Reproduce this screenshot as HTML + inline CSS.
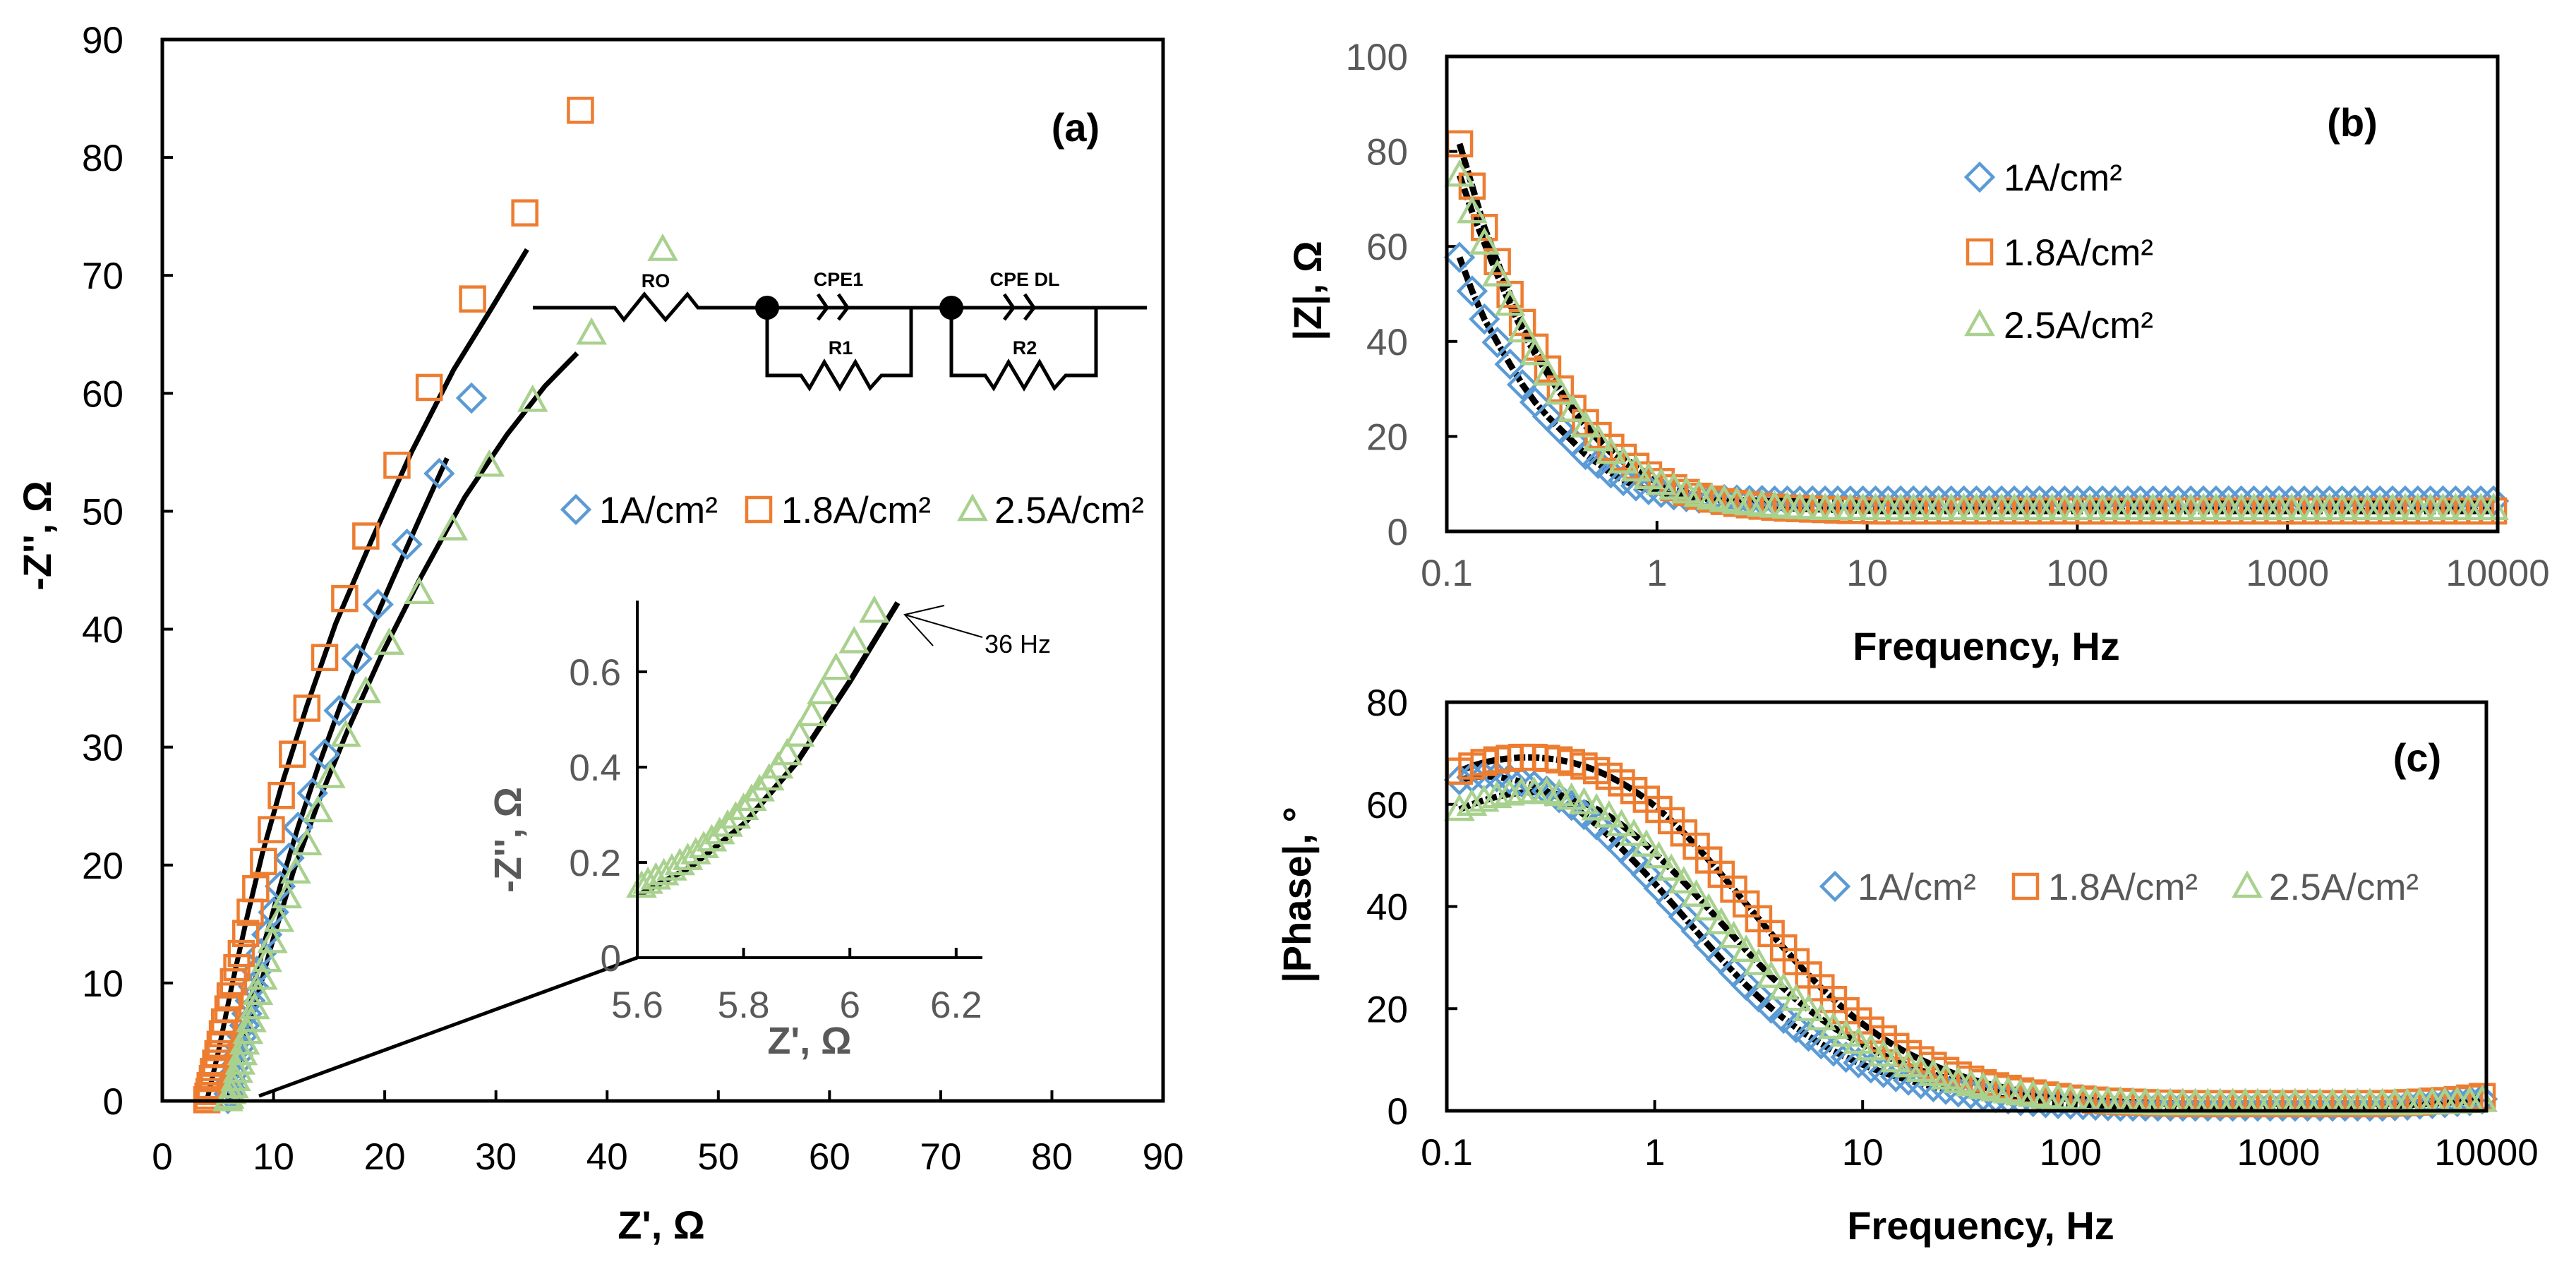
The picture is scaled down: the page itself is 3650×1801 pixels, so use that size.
<!DOCTYPE html>
<html><head><meta charset="utf-8"><style>
html,body{margin:0;padding:0;background:#fff}
svg{display:block}
text{font-family:"Liberation Sans",sans-serif}
</style></head><body>
<svg id="fig" width="3650" height="1801" viewBox="0 0 3650 1801" xmlns="http://www.w3.org/2000/svg">
<g id="pa"></g>
<g id="pb"></g>
<g id="pc"></g>
</svg>
<script>
// ---------- DATA ----------
const seriesNames = ["1A/cm²","1.8A/cm²","2.5A/cm²"];
const seriesColors = ["#5B9BD5","#ED7D31","#A9D18E"];
// Nyquist (a): [Z', -Z'']
const nyqBlue = [[27.8,59.6],[24.9,53.2],[22.0,47.2],[19.4,42.1],[17.5,37.5],[15.9,33.1],[14.6,29.4],[13.5,26.1],[12.2,23.2],[11.4,20.6],[10.6,18.2],[10.0,16.0],[9.4,14.1],[8.9,12.5],[8.5,11.0],[8.2,9.7],[7.9,8.5],[7.6,7.4],[7.4,6.4],[7.2,5.5],[7.0,4.6],[6.8,3.8],[6.6,3.0],[6.4,2.3],[6.2,1.7],[6.1,1.1],[6.0,0.6],[5.9,0.2]];
const nyqOrange = [[37.6,84.0],[32.6,75.3],[27.9,68.0],[24.0,60.5],[21.1,53.9],[18.3,47.9],[16.4,42.6],[14.6,37.6],[13.0,33.3],[11.7,29.4],[10.7,25.9],[9.8,23.0],[9.1,20.3],[8.4,18.0],[7.9,16.0],[7.5,14.2],[7.1,12.5],[6.7,11.3],[6.4,10.1],[6.1,8.9],[5.9,7.8],[5.6,6.7],[5.4,5.7],[5.2,4.8],[5.0,4.0],[4.8,3.2],[4.6,2.5],[4.5,1.9],[4.3,1.3],[4.2,0.8],[4.1,0.4],[4.0,0.1]];
const nyqGreen = [[45.0,72.2],[38.6,65.1],[33.3,59.4],[29.4,53.9],[26.1,48.5],[23.1,43.1],[20.4,38.8],[18.3,34.7],[16.5,31.0],[15.1,27.5],[14.0,24.6],[13.0,21.8],[12.0,19.4],[11.2,17.3],[10.5,15.3],[9.9,13.5],[9.4,11.9],[9.0,10.4],[8.6,9.1],[8.3,7.9],[8.0,6.8],[7.7,5.8],[7.4,4.9],[7.2,4.0],[7.0,3.2],[6.8,2.5],[6.6,1.8],[6.4,1.2],[6.2,0.7],[6.0,0.3],[5.9,0.1]];
const fitBlue = [[5.9,0],[6.8,4],[7.9,8.5],[9.2,13.5],[10.6,18.2],[12.2,23.2],[14.0,28.3],[16.0,33.5],[18.2,38.8],[20.6,44],[23.2,49.5],[25.6,54.5]];
const fitOrange = [[4.0,0],[5.0,4],[6.3,10],[7.6,15.5],[9.0,21],[10.8,27],[13.0,33.5],[15.6,40.5],[18.8,47.5],[22.4,55],[26.2,62],[29.6,67.2],[32.8,72.2]];
const fitGreen = [[5.9,0],[7.0,3.5],[8.3,8],[9.9,13.5],[11.8,19.5],[14.1,25.5],[16.7,31.5],[19.8,38],[23.3,44.5],[27.2,51.2],[31.0,56.5],[34.4,60.6],[37.3,63.4]];
// Inset
const insetGreen = [[5.608,0.150],[5.62,0.158],[5.635,0.167],[5.65,0.176],[5.665,0.186],[5.68,0.197],[5.695,0.208],[5.71,0.220],[5.725,0.233],[5.74,0.247],[5.755,0.262],[5.77,0.278],[5.785,0.295],[5.80,0.313],[5.815,0.332],[5.83,0.352],[5.848,0.375],[5.865,0.400],[5.882,0.428],[5.905,0.467],[5.928,0.51],[5.948,0.556],[5.974,0.607],[6.008,0.663],[6.046,0.727]];
const insetFit = [[5.6,0.13],[5.7,0.19],[5.8,0.28],[5.9,0.41],[6.0,0.58],[6.09,0.745]];
// Bode frequencies
const freq = [0.115,0.132,0.151,0.174,0.200,0.229,0.263,0.302,0.347,0.398,0.457,0.525,0.603,0.692,0.794,0.912,1.047,1.202,1.380,1.585,1.820,2.089,2.399,2.754,3.162,3.631,4.169,4.786,5.495,6.310,7.244,8.318,9.550,10.96,12.59,14.45,16.60,19.05,21.88,25.12,28.84,33.11,38.02,43.65,50.12,57.54,66.07,75.86,87.10,100,114.8,131.8,151.4,173.8,199.5,229.1,263.0,302.0,346.7,398.1,457.1,524.8,602.6,691.8,794.3,912.0,1047,1202,1380,1585,1820,2089,2399,2754,3162,3631,4169,4786,5495,6310,7244,8318,9550];
const magBlue = [57.7,50.6,44.7,39.8,35.2,30.9,27.2,24.2,21.5,18.9,16.2,14.3,12.3,10.7,9.6,8.8,8.2,7.7,7.3,7.0,6.8,6.7,6.6,6.5,6.5,6.4,6.4,6.4,6.4,6.4,6.4,6.4,6.4,6.4,6.4,6.4,6.4,6.4,6.4,6.4,6.4,6.4,6.4,6.4,6.4,6.4,6.4,6.4,6.4,6.4,6.4,6.4,6.4,6.4,6.4,6.4,6.4,6.4,6.4,6.4,6.4,6.4,6.4,6.4,6.4,6.4,6.4,6.4,6.4,6.4,6.4,6.4,6.4,6.4,6.4,6.4,6.4,6.4,6.4,6.4,6.4,6.4,6.4];
const magOrange = [81.6,72.7,64.0,56.8,49.9,44.0,38.8,34.2,30.0,25.9,22.9,20.2,17.7,15.6,13.7,11.9,10.5,9.2,8.2,7.4,6.8,6.3,5.9,5.6,5.3,5.1,4.9,4.8,4.7,4.6,4.5,4.4,4.4,4.3,4.3,4.3,4.3,4.3,4.3,4.3,4.3,4.3,4.3,4.3,4.3,4.3,4.3,4.3,4.3,4.3,4.3,4.3,4.3,4.3,4.3,4.3,4.3,4.3,4.3,4.3,4.3,4.3,4.3,4.3,4.3,4.3,4.3,4.3,4.3,4.3,4.3,4.3,4.3,4.3,4.3,4.3,4.3,4.3,4.3,4.3,4.3,4.3,4.3];
const magGreen = [75.0,67.3,60.7,54.0,47.8,42.2,37.4,33.1,29.1,25.5,22.2,19.3,16.6,14.6,12.9,11.3,10.1,9.1,8.3,7.6,7.0,6.5,6.1,5.8,5.5,5.3,5.1,5.0,4.9,4.8,4.8,4.8,4.8,4.8,4.8,4.8,4.8,4.8,4.8,4.8,4.8,4.8,4.8,4.8,4.8,4.8,4.8,4.8,4.8,4.8,4.8,4.8,4.8,4.8,4.8,4.8,4.8,4.8,4.8,4.8,4.8,4.8,4.8,4.8,4.8,4.8,4.8,4.8,4.8,4.8,4.8,4.8,4.8,4.8,4.8,4.8,4.8,4.8,4.8,4.8,4.8,4.8,4.8];
const phBlue = [64.8,65.3,65.5,65.4,65.0,64.4,63.6,62.6,61.3,59.8,58.0,56.0,53.8,51.4,48.9,46.3,43.6,40.8,38.0,35.2,32.4,29.7,27.1,24.6,22.3,20.1,18.1,16.3,14.6,13.1,11.7,10.5,9.4,8.4,7.5,6.7,6.0,5.3,4.7,4.2,3.7,3.3,2.9,2.6,2.3,2.0,1.8,1.6,1.4,1.3,1.2,1.1,1.0,0.9,0.9,0.9,0.9,0.9,0.9,0.9,0.9,0.9,0.9,0.9,0.9,0.9,0.9,0.9,0.9,0.9,0.9,0.9,0.9,0.9,0.9,1.0,1.1,1.3,1.4,1.6,1.8,2.0,2.3];
const phOrange = [66.5,67.5,68.2,68.7,69.0,69.2,69.2,69.0,68.7,68.2,67.5,66.6,65.5,64.2,62.7,61.0,59.0,56.8,54.4,51.8,49.1,46.3,43.4,40.5,37.6,34.7,31.9,29.2,26.6,24.1,21.8,19.6,17.6,15.8,14.1,12.6,11.2,10.0,8.9,7.9,7.0,6.2,5.5,4.9,4.4,3.9,3.5,3.1,2.8,2.5,2.3,2.1,1.9,1.8,1.7,1.6,1.5,1.5,1.4,1.4,1.4,1.4,1.4,1.4,1.4,1.4,1.4,1.4,1.4,1.4,1.4,1.4,1.4,1.4,1.4,1.5,1.6,1.7,1.9,2.0,2.2,2.5,2.8];
const phGreen = [59.0,60.0,60.8,61.5,62.0,62.3,62.4,62.3,61.9,61.2,60.3,59.1,57.7,56.0,54.1,52.0,49.7,47.3,44.8,42.2,39.5,36.8,34.1,31.4,28.8,26.3,24.0,21.8,19.8,18.0,16.3,14.8,13.4,12.1,10.9,9.8,8.8,7.9,7.1,6.4,5.7,5.1,4.6,4.1,3.7,3.3,3.0,2.7,2.5,2.3,2.1,1.9,1.8,1.7,1.6,1.5,1.4,1.4,1.4,1.4,1.4,1.4,1.4,1.4,1.4,1.4,1.4,1.4,1.4,1.4,1.4,1.4,1.4,1.4,1.4,1.4,1.4,1.5,1.5,1.6,1.7,1.8,2.0];
const ticksA = [0,10,20,30,40,50,60,70,80,90];
const ticksInsetX = [5.6,5.8,6.0,6.2];
const ticksInsetY = [0,0.2,0.4,0.6];
const ticksB = [0,20,40,60,80,100];
const ticksC = [0,20,40,60,80];
const ticksF = [0.1,1,10,100,1000,10000];

// ---------- HELPERS ----------
const NS = "http://www.w3.org/2000/svg";
function mk(parent, tag, attrs, txt){
  const e = document.createElementNS(NS, tag);
  for (const k in attrs) e.setAttribute(k, attrs[k]);
  if (txt !== undefined) e.textContent = txt;
  parent.appendChild(e);
  return e;
}
function marker(g, kind, x, y, color){
  let e;
  if (kind === 0) e = mk(g,"polygon",{points:`${x},${y-19} ${x+19},${y} ${x},${y+19} ${x-19},${y}`,fill:"none",stroke:color,"stroke-width":4.5});
  else if (kind === 1) e = mk(g,"rect",{x:x-17,y:y-17,width:34,height:34,fill:"none",stroke:color,"stroke-width":4.5});
  else e = mk(g,"polygon",{points:`${x},${y-18} ${x+18},${y+14} ${x-18},${y+14}`,fill:"none",stroke:color,"stroke-width":4.5});
  
  
  return e;
}
function poly(g, pts, attrs){
  const e = mk(g,"polyline",Object.assign({points:pts.map(p=>p[0].toFixed(1)+","+p[1].toFixed(1)).join(" "),fill:"none"},attrs));
  
  
  return e;
}
function label(g, x, y, s, attrs, name){
  const e = mk(g,"text",Object.assign({x:x,y:y,"font-size":53},attrs), s);
  
  
  return e;
}
function legend(g, items){
  items.forEach((it,i)=>{
    marker(g,i,it.mx,it.my,seriesColors[i]);
    label(g,it.tx,it.my+19,seriesNames[i],{fill:it.fill||"#000"},"legend-entry");
  });
}

// ---------- PANEL A ----------
const pa = document.getElementById("pa");
const xa = v => 230 + v*15.756;
const ya = v => 1560 - v*16.711;
ticksA.forEach(t=>{
  if (t>0 && t<90){
    mk(pa,"line",{x1:xa(t),y1:1560,x2:xa(t),y2:1545,stroke:"#000","stroke-width":4});
    mk(pa,"line",{x1:230,y1:ya(t),x2:245,y2:ya(t),stroke:"#000","stroke-width":4});
  }
  label(pa,xa(t),1657,String(t),{"text-anchor":"middle"},"x-tick-label");
  label(pa,175,ya(t)+19,String(t),{"text-anchor":"end"},"y-tick-label");
});
mk(pa,"line",{x1:367,y1:1553,x2:903,y2:1357,stroke:"#000","stroke-width":5});
[fitBlue,fitOrange,fitGreen].forEach(f=>poly(pa,f.map(p=>[xa(p[0]),ya(p[1])]),{stroke:"#000","stroke-width":7}));
[nyqBlue,nyqOrange,nyqGreen].forEach((s,i)=>s.forEach(p=>marker(pa,i,xa(p[0]),ya(p[1]),seriesColors[i])));
const fa = mk(pa,"rect",{x:230,y:56,width:1418,height:1504,fill:"none",stroke:"#000","stroke-width":5});

label(pa,937,1755,"Z', Ω",{"text-anchor":"middle","font-weight":"bold","font-size":56},"x-axis-title");
label(pa,0,0,"-Z'', Ω",{"text-anchor":"middle","font-weight":"bold","font-size":56,transform:"translate(72,759) rotate(-90)"},"y-axis-title");
label(pa,1524,200,"(a)",{"text-anchor":"middle","font-weight":"bold","font-size":56},"panel-label");
legend(pa,[{mx:816,my:722,tx:849},{mx:1075,my:722,tx:1107},{mx:1378,my:722,tx:1409}]);

// circuit
const cg = mk(pa,"g",{stroke:"#000","stroke-width":5,fill:"none"});

mk(cg,"polyline",{points:"755,436 871,436 884,453 913,417 943,453 974,417 989,436 1625,436"});
mk(cg,"polyline",{points:"1087,436 1087,532 1135,532 1147,550 1168,513 1190,550 1212,513 1233,550 1249,532 1291,532 1291,436"});
mk(cg,"polyline",{points:"1348,436 1348,532 1396,532 1408,550 1429,513 1451,550 1473,513 1494,550 1510,532 1553,532 1553,436"});
mk(cg,"polyline",{points:"1159,417 1172,436 1159,453"});
mk(cg,"polyline",{points:"1188,417 1201,436 1188,453"});
mk(cg,"polyline",{points:"1423,417 1436,436 1423,453"});
mk(cg,"polyline",{points:"1452,417 1465,436 1452,453"});
mk(pa,"circle",{cx:1087,cy:436,r:17,fill:"#000"});
mk(pa,"circle",{cx:1348,cy:436,r:17,fill:"#000"});
[["RO",929,407],["CPE1",1188,405],["R1",1191,502],["CPE DL",1452,405],["R2",1452,502]].forEach(c=>{
  label(pa,c[1],c[2],c[0],{"text-anchor":"middle","font-weight":"bold","font-size":27},"circuit-label");
});

// inset
const xi = v => 903 + (v-5.6)/0.2*150.6;
const yi = v => 1357 - v/0.2*135;
poly(pa,insetFit.map(p=>[xi(p[0]),yi(p[1])]),{stroke:"#000","stroke-width":8});
insetGreen.forEach(p=>marker(pa,2,xi(p[0]),yi(p[1]),seriesColors[2]));
mk(pa,"polyline",{points:"903,851 903,1357 1392,1357",fill:"none",stroke:"#000","stroke-width":4});
ticksInsetX.forEach(t=>{
  if (t>5.61) mk(pa,"line",{x1:xi(t),y1:1357,x2:xi(t),y2:1343,stroke:"#000","stroke-width":4});
  label(pa,xi(t),1442,t===6?"6":String(t),{"text-anchor":"middle",fill:"#595959"},"inset-x-tick-label");
});
ticksInsetY.forEach(t=>{
  if (t>0) mk(pa,"line",{x1:903,y1:yi(t),x2:917,y2:yi(t),stroke:"#000","stroke-width":4});
  label(pa,880,yi(t)+19,String(t),{"text-anchor":"end",fill:"#595959"},"inset-y-tick-label");
});
label(pa,1147,1493,"Z', Ω",{"text-anchor":"middle","font-weight":"bold",fill:"#595959","font-size":54},"inset-x-axis-title");
label(pa,0,0,"-Z'', Ω",{"text-anchor":"middle","font-weight":"bold",fill:"#595959","font-size":54,transform:"translate(738,1190) rotate(-90)"},"inset-y-axis-title");
mk(pa,"polyline",{points:"1392,903 1282,871",fill:"none",stroke:"#000","stroke-width":2});
mk(pa,"polyline",{points:"1338,858 1282,871 1322,915",fill:"none",stroke:"#000","stroke-width":2});
label(pa,1395,925,"36 Hz",{"font-family":"Liberation Serif, serif","font-size":36},"annotation-36hz");

// ---------- BODE ----------
function bode(g, left, right, top, bottom, ymax, ticksY, ys, labelFill){
  const dec = (right-left)/5;
  const xf = f => left + (Math.log10(f)+1)*dec;
  const yv = v => bottom - v*(bottom-top)/ymax;
  ticksF.forEach((f,i)=>{
    if (i>0 && i<5) mk(g,"line",{x1:xf(f),y1:bottom,x2:xf(f),y2:bottom-15,stroke:"#000","stroke-width":4});
    label(g,xf(f),bottom+77,String(f),{"text-anchor":"middle",fill:labelFill},"x-tick-label");
  });
  ticksY.forEach(t=>{
    if (t>0 && t<ymax) mk(g,"line",{x1:left,y1:yv(t),x2:left+15,y2:yv(t),stroke:"#000","stroke-width":4});
    label(g,1995,yv(t)+19,String(t),{"text-anchor":"end",fill:labelFill},"y-tick-label");
  });
  ys.forEach(s=>poly(g,freq.map((f,i)=>[xf(f),yv(s[i])]),{stroke:"#000","stroke-width":9,"stroke-dasharray":"16 4"}));
  ys.forEach((s,k)=>freq.forEach((f,i)=>marker(g,k,xf(f),yv(s[i]),seriesColors[k])));
  mk(g,"rect",{x:left,y:top,width:right-left,height:bottom-top,fill:"none",stroke:"#000","stroke-width":5});
  label(g,(left+right)/2+20,bottom+182,"Frequency, Hz",{"text-anchor":"middle","font-weight":"bold","font-size":56},"x-axis-title");
}
const pb = document.getElementById("pb");
bode(pb,2050,3539,80,753,100,ticksB,[magBlue,magOrange,magGreen],"#595959");
label(pb,0,0,"|Z|, Ω",{"text-anchor":"middle","font-weight":"bold","font-size":56,transform:"translate(1872,412) rotate(-90)"},"y-axis-title");
label(pb,3333,193,"(b)",{"text-anchor":"middle","font-weight":"bold","font-size":56},"panel-label");
legend(pb,[{mx:2805,my:251,tx:2839},{mx:2805,my:357,tx:2839},{mx:2805,my:460,tx:2839}]);

const pc = document.getElementById("pc");
bode(pc,2050,3523,995,1574,80,ticksC,[phBlue,phOrange,phGreen],"#000");
label(pc,0,0,"|Phase|, °",{"text-anchor":"middle","font-weight":"bold","font-size":56,transform:"translate(1857,1268) rotate(-90)"},"y-axis-title");
label(pc,3425,1093,"(c)",{"text-anchor":"middle","font-weight":"bold","font-size":56},"panel-label");
legend(pc,[{mx:2600,my:1256,tx:2632,fill:"#595959"},{mx:2870,my:1256,tx:2902,fill:"#595959"},{mx:3184,my:1256,tx:3215,fill:"#595959"}]);
</script>
</body></html>
